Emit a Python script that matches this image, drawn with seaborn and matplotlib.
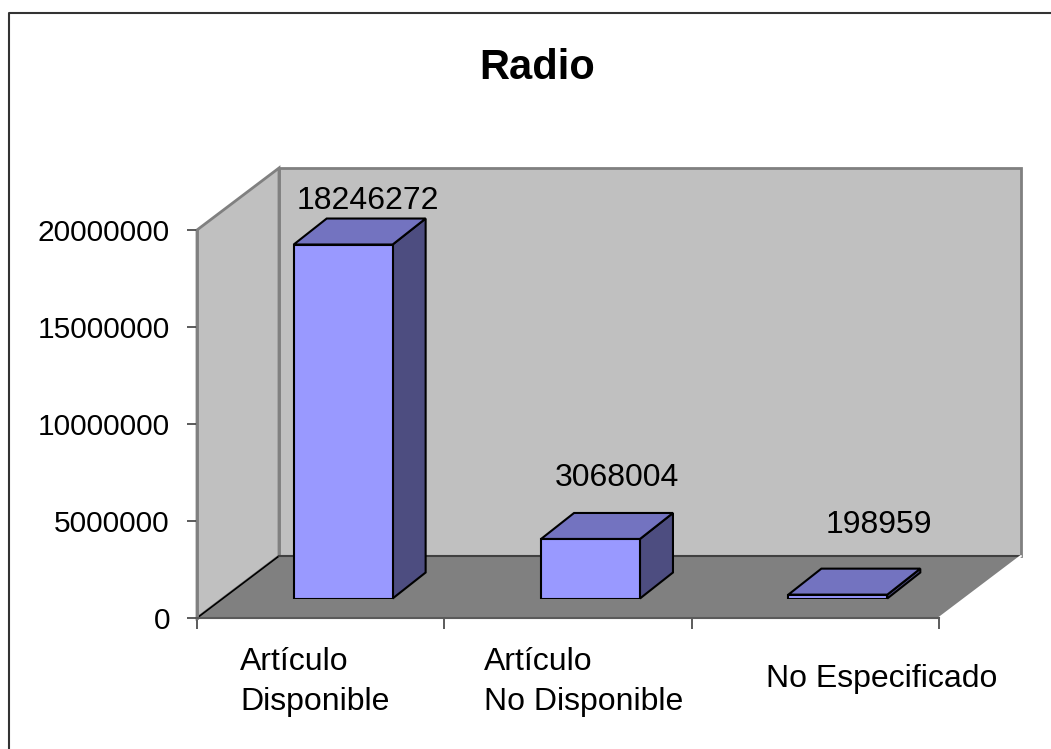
import numpy as np
import pandas as pd
import matplotlib
matplotlib.use("Agg")
import matplotlib.pyplot as plt
from matplotlib.patches import Polygon
import seaborn as sns

# Datos del gráfico
titulo = "Radio"
categorias = ["Artículo\nDisponible", "Artículo\nNo Disponible", "No Especificado"]
valores = [18246272, 3068004, 198959]
ticks_y = [0, 5000000, 10000000, 15000000, 20000000]
y_max = 20000000

sns.set_theme(style="white")
plt.rcParams["font.family"] = ["Liberation Sans", "DejaVu Sans"]
plt.rcParams["text.color"] = "black"
plt.rcParams["ytick.labelcolor"] = "black"
plt.rcParams["xtick.labelcolor"] = "black"

W, H = 1051, 749
fig = plt.figure(figsize=(W / 100, H / 100), dpi=100)
fig.patch.set_facecolor("white")

# Geometría del "3D" (pixeles, y hacia abajo)
x0, y0 = 197, 618          # origen del plano frontal
ancho, alto = 742, 388     # tamaño del plano
prof = (82, -62)           # desplazamiento hasta la pared del fondo
plano_barras = (22.5, -19.5)
prof_barra = (33, -26)

col_frente = "#9999FF"
col_tapa = "#7373C0"
col_lado = "#4D4D80"
col_pared = "#C0C0C0"
col_piso = "#808080"

# Fondo: paredes y piso
ax_bg = fig.add_axes([0, 0, 1, 1], zorder=0)
ax_bg.set_xlim(0, W)
ax_bg.set_ylim(H, 0)
ax_bg.axis("off")

bx, by = x0 + prof[0], y0 + prof[1]
pared_fondo = [(bx, by), (bx + ancho, by), (bx + ancho, by - alto), (bx, by - alto)]
pared_izq = [(x0, y0), (bx, by), (bx, by - alto), (x0, y0 - alto)]
piso = [(x0, y0), (x0 + ancho, y0), (bx + ancho, by), (bx, by)]

ax_bg.add_patch(Polygon(pared_fondo, closed=True, fc=col_pared, ec="#808080", lw=2))
ax_bg.add_patch(Polygon(pared_izq, closed=True, fc=col_pared, ec="#808080", lw=2))
ax_bg.add_patch(Polygon(piso, closed=True, fc=col_piso, ec="none"))
ax_bg.plot([x0, bx], [y0, by], color="black", lw=1.2)
ax_bg.plot([bx, bx + ancho], [by, by], color="#404040", lw=1.5)
ax_bg.plot([x0 + ancho, bx + ancho], [y0, by], color="white", lw=1.5)

# borde exterior
ax_bg.plot([9, 9, W], [H, 13, 13], color="#333333", lw=1.5)

# Título
ax_bg.text(537.5, 79, titulo, ha="center", va="baseline", fontsize=30, fontweight="bold")

# Plano frontal: ejes y marcas
ax_front = fig.add_axes([x0 / W, 1 - y0 / H, ancho / W, alto / H], zorder=1)
ax_front.patch.set_visible(False)
ax_front.set_xlim(-0.5, 2.5)
ax_front.set_ylim(0, y_max)
ax_front.set_yticks(ticks_y)
ax_front.set_yticklabels([str(t) for t in ticks_y], fontsize=21.5)
ax_front.set_xticks(np.arange(len(categorias) + 1) - 0.5)
ax_front.set_xticklabels([])
ax_front.tick_params(axis="y", direction="out", length=7, width=1.2, color="#404040", pad=12.5, left=True)
ax_front.tick_params(axis="x", direction="out", length=8, width=1.2, color="#404040", bottom=True)
for s in ["top", "right"]:
    ax_front.spines[s].set_visible(False)
ax_front.spines["left"].set_color("#808080")
ax_front.spines["left"].set_linewidth(2)
ax_front.spines["bottom"].set_color("#5A5A5A")
ax_front.spines["bottom"].set_linewidth(1.5)

# Etiquetas de categoría (va="baseline" alinea la última línea)
izq_frac = [0.174, 0.162, 0.30]
base_y = [710, 710, 687]
paso = ancho / len(categorias)
for i, cat in enumerate(categorias):
    ax_bg.text(x0 + (i + izq_frac[i]) * paso, base_y[i], cat, ha="left", va="baseline",
               fontsize=23, linespacing=1.43, multialignment="left")

# Barras en su plano
ax_bars = fig.add_axes([(x0 + plano_barras[0]) / W, 1 - (y0 + plano_barras[1]) / H,
                        ancho / W, alto / H], zorder=2)
df = pd.DataFrame({"categoria": categorias, "valor": valores})
sns.barplot(data=df, x="categoria", y="valor", ax=ax_bars, color=col_frente,
            saturation=1, width=0.4, edgecolor="black", linewidth=1.5)
ax_bars.set_xlim(-0.5, 2.5)
ax_bars.set_ylim(0, y_max)
ax_bars.axis("off")

ddx = prof_barra[0] * len(categorias) / ancho
ddy = -prof_barra[1] * y_max / alto
for p in list(ax_bars.patches):
    xa = p.get_x()
    xb = xa + p.get_width()
    h = p.get_height()
    tapa = [(xa, h), (xb, h), (xb + ddx, h + ddy), (xa + ddx, h + ddy)]
    lado = [(xb, 0), (xb, h), (xb + ddx, h + ddy), (xb + ddx, ddy)]
    ax_bars.add_patch(Polygon(lado, closed=True, fc=col_lado, ec="black", lw=1.5, clip_on=False, zorder=1))
    ax_bars.add_patch(Polygon(tapa, closed=True, fc=col_tapa, ec="black", lw=1.5, clip_on=False, zorder=1))
    p.set_zorder(2)

# Etiquetas de datos
desplaz = [(25, 44), (26, 61), (41, 70)]
for p, v, d in zip(ax_bars.patches, valores, desplaz):
    ax_bars.annotate(str(v), xy=(p.get_x() + p.get_width() / 2, v), xytext=d,
                     textcoords="offset pixels", ha="center", va="center",
                     fontsize=23, annotation_clip=False)

fig.savefig("out.png", dpi=100)
